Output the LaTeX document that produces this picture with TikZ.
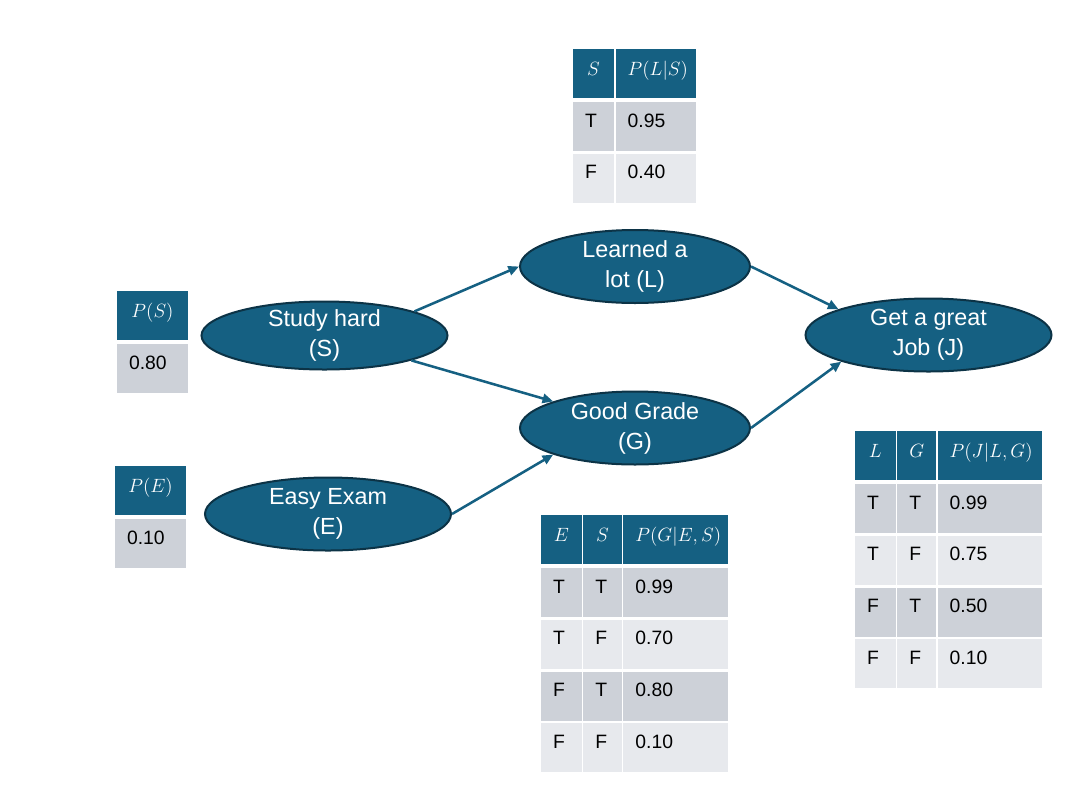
\documentclass[tikz,border=0pt]{standalone}
\usepackage{fontspec}
\newfontfamily\nodefont{Liberation Sans}
\usetikzlibrary{arrows.meta,shapes.geometric,matrix}
\definecolor{nodeblue}{HTML}{156082}
\definecolor{nodeedge}{HTML}{0C3346}
\definecolor{rowdark}{HTML}{CDD1D8}
\definecolor{rowlight}{HTML}{E7E9ED}

\begin{document}
\begin{tikzpicture}[x=0.75pt,y=-0.75pt,->,>={Triangle[length=8pt,width=7pt]},
semithick]
\tikzstyle{var}=[ellipse,draw=nodeedge,line width=1.5pt,fill=nodeblue,text=white,
  inner sep=-2pt,align=center,font=\nodefont\fontsize{17.5}{22.5}\selectfont,
  minimum width=184.5pt,minimum height=54.75pt]
\tikzstyle{link}=[nodeblue,line width=1.9pt]
\tikzstyle{cell}=[inner xsep=9pt,inner ysep=0pt,outer sep=0pt,text height=18.5pt,
  text depth=18.25pt,align=left,font=\nodefont\fontsize{14.5}{17}\selectfont]
\tikzstyle{hd}=[cell,fill=nodeblue,text=white,align=center,text height=19.5pt,
  text depth=17.25pt,font=\fontsize{15.5}{18}\selectfont]
\tikzstyle{rowa}=[cell,fill=rowdark]
\tikzstyle{rowb}=[cell,fill=rowlight]
\tikzstyle{cpt}=[matrix of nodes,anchor=north west,inner sep=0pt,outer sep=0pt,
  column sep=1.25pt,row sep=2pt,row 1/.style={nodes=hd},row 2/.style={nodes=rowa},
  row 3/.style={nodes=rowb},row 4/.style={nodes=rowa},row 5/.style={nodes=rowb}]
\useasboundingbox (0,0) rectangle (1081,800);

% network
\node[var,minimum height=51pt] (S) at (324.5,335.5) {Study hard\\(S)};
\node[var] (E) at (328,514) {Easy Exam\\(E)};
\node[var,minimum width=172.5pt] (L) at (635,266.5) {Learned a\\lot (L)};
\node[var,minimum width=172.5pt] (G) at (635,428) {Good Grade\\(G)};
\node[var] (J) at (928.5,335) {Get a great\\Job (J)};
\path[link] (S.15) edge (L.west)
            (S.-16) edge (G.162)
            (E.east) edge (G.198)
            (L.east) edge (J.164)
            (G.east) edge (J.197);

% tables
\matrix (cptS) [cpt,column 1/.style={nodes={text width=35.25pt}}] at (117,291)
{ $P(S)$ \\[1.25pt]
  0.80 \\ };
\matrix (cptE) [cpt,column 1/.style={nodes={text width=35.25pt}}] at (115,466)
{ $P(E)$ \\[1.25pt]
  0.10 \\ };
\matrix (cptL) [cpt,column 1/.style={nodes={text width=12.75pt}},
  column 2/.style={nodes={text width=42pt}}] at (573,49)
{ $S$ & $P(L|S)$ \\[1.25pt]
  T & 0.95 \\
  F & 0.40 \\ };
\matrix (cptG) [cpt,column 1/.style={nodes={text width=12.5pt}},
  column 2/.style={nodes={text width=10.8pt}},
  column 3/.style={nodes={text width=60.75pt}}] at (541,515)
{ $E$ & $S$ & $P(G|E,S)$ \\[1.25pt]
  T & T & 0.99 \\
  T & F & 0.70 \\
  F & T & 0.80 \\
  F & F & 0.10 \\ };
\matrix (cptJ) [cpt,column 1/.style={nodes={text width=12.5pt}},
  column 2/.style={nodes={text width=11pt}},
  column 3/.style={nodes={text width=60.5pt}}] at (855,431)
{ $L$ & $G$ & $P(J|L,G)$ \\[1.25pt]
  T & T & 0.99 \\
  T & F & 0.75 \\
  F & T & 0.50 \\
  F & F & 0.10 \\ };
\end{tikzpicture}
\end{document}
